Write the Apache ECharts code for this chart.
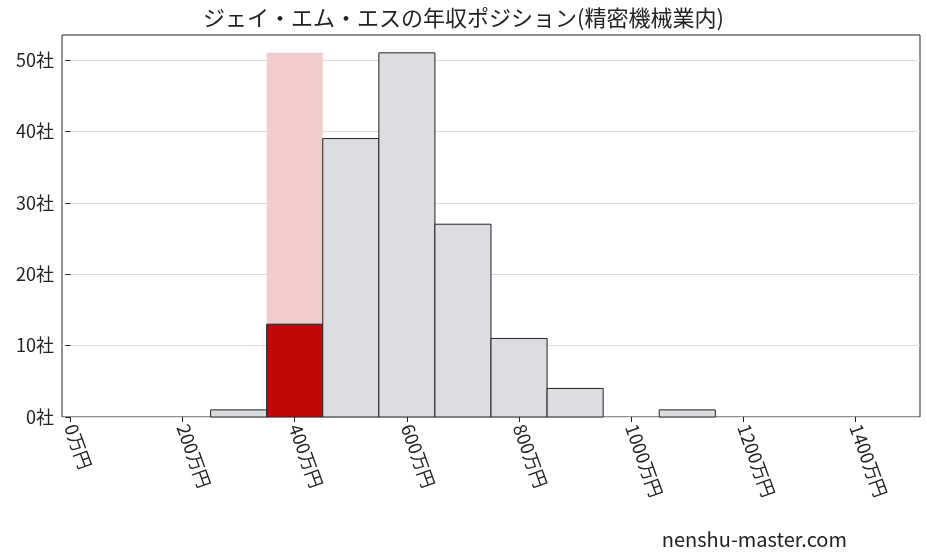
<!DOCTYPE html>
<html><head><meta charset="utf-8">
<script src="https://cdn.jsdelivr.net/npm/echarts@6/dist/echarts.min.js"></script>
<style>html,body{margin:0;padding:0;background:#fff}#c{width:927px;height:557px}</style>
</head><body><div id="c"></div>
<script>
const binStarts = [250,350,450,550,650,750,850,950,1050];
const counts = [1,13,39,51,27,11,4,0,1];
const binWidth = 100;
const highlightIndex = 1;
const highlightBg = 51;
const xTicks = [0,200,400,600,800,1000,1200,1400];
const yTicks = [0,10,20,30,40,50];
const F = '"Noto Sans CJK JP", sans-serif';

const data = binStarts.map((s,i)=>[s, s+binWidth, counts[i], i===highlightIndex?1:0]);
const chart = echarts.init(document.getElementById('c'));
function rect(api, lo, hi, v, style){
  const p0 = api.coord([lo,0]), p1 = api.coord([hi,v]);
  return {type:'rect', shape:{x:p0[0],y:p1[1],width:p1[0]-p0[0],height:p0[1]-p1[1]}, style};
}
chart.setOption({
  animation:false,
  title:{text:'ジェイ・エム・エスの年収ポジション(精密機械業内)',left:'center',top:2,textStyle:{fontFamily:F,fontSize:22,fontWeight:'normal',color:'#222'}},
  graphic:[{type:'text',right:80,bottom:8,style:{text:'nenshu-master.com',font:'20px '+F,fill:'#222'}}],
  grid:{left:62,right:7,top:35,bottom:140,show:true,borderColor:'#222',borderWidth:1},
  xAxis:{type:'value',min:-15,max:1515,interval:100,
    axisLine:{show:false},splitLine:{show:false},
    axisTick:{show:true,customValues:xTicks,lineStyle:{color:'#222'}},
    axisLabel:{customValues:xTicks,rotate:-70,fontFamily:F,fontSize:18,color:'#222',formatter:v=>v+'万円'}},
  yAxis:{type:'value',min:0,max:53.5,
    axisLine:{show:false},
    axisTick:{show:true,customValues:yTicks,lineStyle:{color:'#222'}},
    splitLine:{show:true,customValues:yTicks,lineStyle:{color:'#ddd'}},
    axisLabel:{customValues:yTicks,fontFamily:F,fontSize:18,color:'#222',formatter:v=>v+'社'}},
  series:[{type:'custom',data,encode:{x:[0,1],y:2},
    renderItem:(params,api)=>{
      const lo=api.value(0), hi=api.value(1), v=api.value(2), h=api.value(3);
      if(h){
        return {type:'group',children:[
          rect(api,lo,hi,highlightBg,{fill:'#f2cccd'}),
          rect(api,lo,hi,v,{fill:'#c00808',stroke:'#222',lineWidth:1})]};
      }
      if(v<=0) return null;
      return rect(api,lo,hi,v,{fill:'#dcdde0',stroke:'#222',lineWidth:1});
    }}]
});
</script></body></html>
